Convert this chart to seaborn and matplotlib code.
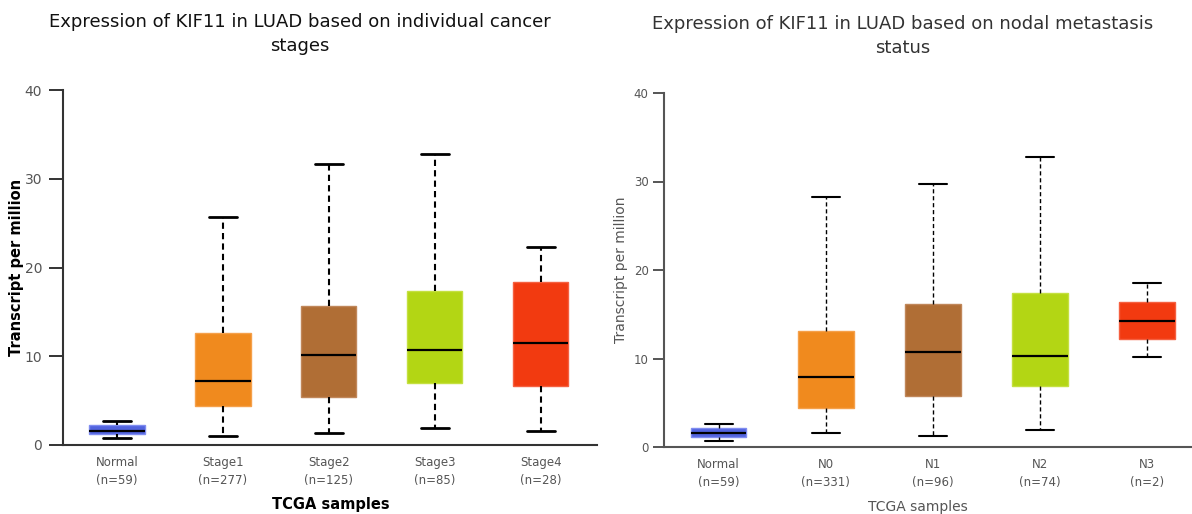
import numpy as np
import pandas as pd
import seaborn as sns
import matplotlib
matplotlib.use("Agg")
import matplotlib.pyplot as plt

# box values: lower whisker, Q1, median, Q3, upper whisker
stage_groups = ["Normal", "Stage1", "Stage2", "Stage3", "Stage4"]
stage_n = [59, 277, 125, 85, 28]
stage_low = [0.8, 1.0, 1.35, 1.9, 1.6]
stage_q1 = [1.2, 4.4, 5.4, 7.0, 6.6]
stage_med = [1.6, 7.2, 10.1, 10.7, 11.5]
stage_q3 = [2.3, 12.6, 15.7, 17.35, 18.4]
stage_high = [2.7, 25.7, 31.7, 32.8, 22.3]

nodal_groups = ["Normal", "N0", "N1", "N2", "N3"]
nodal_n = [59, 331, 96, 74, 2]
nodal_low = [0.7, 1.6, 1.25, 1.9, 10.2]
nodal_q1 = [1.1, 4.4, 5.8, 6.9, 12.2]
nodal_med = [1.6, 7.9, 10.7, 10.3, 14.2]
nodal_q3 = [2.15, 13.1, 16.2, 17.4, 16.4]
nodal_high = [2.6, 28.2, 29.7, 32.8, 18.5]

box_colors = ["#5263DE", "#F08A1E", "#B06E35", "#B3D614", "#F23A10"]
edge_colors = ["#7F8CF0", "#F5A04A", "#C0875A", "#C4E040", "#F56040"]

sns.set_style("white")
plt.rcParams["font.family"] = ["DejaVu Sans"]


def long_table(groups, low, q1, med, q3, high):
    rows = []
    for i, g in enumerate(groups):
        for v in (low[i], q1[i], med[i], q3[i], high[i]):
            rows.append({"group": g, "tpm": v})
    return pd.DataFrame(rows)


def draw_panel(ax, groups, ns, df, whisk_lw, cap_lw, spine_col, tick_size, tick_len, tick_pad):
    sns.boxplot(data=df, x="group", y="tpm", hue="group", order=groups,
                hue_order=groups, palette=box_colors, saturation=1, legend=False,
                whis=(0, 100), width=0.52, showfliers=False, ax=ax,
                boxprops=dict(linewidth=1.0),
                whiskerprops=dict(color="black", linewidth=whisk_lw, linestyle=(0, (3, 2))),
                capprops=dict(color="black", linewidth=cap_lw),
                medianprops=dict(color="black", linewidth=1.6))
    for patch, c in zip(ax.patches, edge_colors):
        patch.set_edgecolor(c)
    ax.set_ylim(0, 40)
    ax.set_yticks([0, 10, 20, 30, 40])
    ax.set_xticks(range(len(groups)))
    ax.set_xticklabels([f"{g}\n(n={n})" for g, n in zip(groups, ns)],
                       color="#555555", fontsize=8.5, linespacing=1.5)
    ax.tick_params(axis="x", length=0, pad=8)
    ax.tick_params(axis="y", length=tick_len, width=1.4, color=spine_col, direction="out",
                   labelsize=tick_size, labelcolor="#555555", left=True, pad=tick_pad)
    for s in ["top", "right"]:
        ax.spines[s].set_visible(False)
    for s in ["left", "bottom"]:
        ax.spines[s].set_color(spine_col)
        ax.spines[s].set_linewidth(1.5)


fig = plt.figure(figsize=(11.92, 5.14), dpi=100)
ax1 = fig.add_axes([63 / 1192, 1 - 445 / 514, (597 - 63) / 1192, (445 - 90) / 514])
ax2 = fig.add_axes([664 / 1192, 1 - 447 / 514, (1192 - 664) / 1192, (447 - 93) / 514])

df1 = long_table(stage_groups, stage_low, stage_q1, stage_med, stage_q3, stage_high)
df2 = long_table(nodal_groups, nodal_low, nodal_q1, nodal_med, nodal_q3, nodal_high)

draw_panel(ax1, stage_groups, stage_n, df1, 1.5, 2.0, "#333333", 10, 10, 5)
draw_panel(ax2, nodal_groups, nodal_n, df2, 1.0, 1.5, "#555555", 8.5, 8, 3)
ax1.set_xlim(-0.51, 4.53)
ax2.set_xlim(-0.51, 4.42)

ax1.set_xlabel("TCGA samples", fontsize=10.5, fontweight="bold", color="black")
ax1.set_ylabel("Transcript per million", fontsize=10.5, fontweight="bold", color="black")
ax1.xaxis.set_label_coords((331 - 63) / 534, -(505 - 445) / 355)
ax1.yaxis.set_label_coords(-(63 - 17) / 534, 0.5)
ax2.set_xlabel("TCGA samples", fontsize=10, color="#555555")
ax2.set_ylabel("Transcript per million", fontsize=10, color="#555555")
ax2.xaxis.set_label_coords((918 - 664) / 528, -(507 - 447) / 354)
ax2.yaxis.set_label_coords(-(664 - 621) / 528, 0.5)
for lab in (ax1.xaxis.label, ax2.xaxis.label, ax1.yaxis.label, ax2.yaxis.label):
    lab.set_va("center")

fig.text(300 / 1192, 1 - 34 / 514, "Expression of KIF11 in LUAD based on individual cancer\nstages",
         ha="center", va="center", fontsize=13, color="#111111", linespacing=1.45)
fig.text(903 / 1192, 1 - 36 / 514, "Expression of KIF11 in LUAD based on nodal metastasis\nstatus",
         ha="center", va="center", fontsize=13, color="#333333", linespacing=1.45)

fig.savefig("out.png", dpi=100)
